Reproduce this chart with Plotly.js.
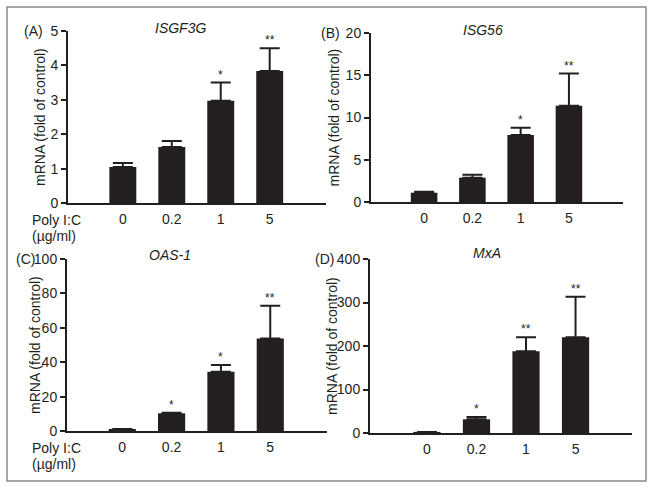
<!DOCTYPE html>
<html>
<head>
<meta charset="utf-8">
<script src="https://cdn.plot.ly/plotly-3.0.1.min.js"></script>
<style>html,body{margin:0;padding:0;background:#fff;}#chart{width:654px;height:489px;}</style>
</head>
<body>
<div id="chart"></div>
<script>
// ---- data ----
const doses = ['0', '0.2', '1', '5'];

const isgf3gMean = [1.05, 1.63, 2.97, 3.84];
const isgf3gErr  = [0.11, 0.17, 0.53, 0.66];
const isgf3gSig  = ['', '', '*', '**'];

const isg56Mean = [1.1, 2.88, 7.93, 11.4];
const isg56Err  = [0.1, 0.35, 0.87, 3.8];
const isg56Sig  = ['', '', '*', '**'];

const oas1Mean = [1.2, 10.3, 34.4, 53.8];
const oas1Err  = [0, 0.3, 3.9, 19.0];
const oas1Sig  = ['', '*', '*', '**'];

const mxaMean = [2.5, 31.5, 188, 220];
const mxaErr  = [0, 5.5, 32, 93];
const mxaSig  = ['', '*', '**', '**'];

const panelLabels = ['(A)', '(B)', '(C)', '(D)'];
const geneNames = ['ISGF3G', 'ISG56', 'OAS-1', 'MxA'];
const yMax = [5, 20, 100, 400];
const yDtick = [1, 5, 20, 100];
const yTitle = 'mRNA (fold of control)';
const doseLabel1 = 'Poly I:C';
const doseLabel2 = '(\u00b5g/ml)';

// ---- rendering ----
const W = 654, H = 489;
const ink = '#231f20';
const font = 'Liberation Sans, Arial, Helvetica, sans-serif';
const fs = 14;

const panels = [
  {mean: isgf3gMean, err: isgf3gErr, sig: isgf3gSig, x: [68, 326], y: [31, 203], xr: [-1.12, 4.15],
   title: [180, 28], label: 43, ytitle: 40},
  {mean: isg56Mean, err: isg56Err, sig: isg56Sig, x: [371, 623], y: [33, 202], xr: [-1.1, 4.12],
   title: [483, 30], label: 340, ytitle: 334},
  {mean: oas1Mean, err: oas1Err, sig: oas1Sig, x: [67, 327], y: [259, 431], xr: [-1.12, 4.15],
   title: [170, 255], label: 35, ytitle: 35},
  {mean: mxaMean, err: mxaErr, sig: mxaSig, x: [370, 632], y: [259, 433], xr: [-1.15, 4.14],
   title: [487, 253], label: 334, ytitle: 332}
];

const traces = [];
const annotations = [];
const layout = {
  width: W, height: H,
  margin: {l: 0, r: 0, t: 0, b: 0},
  paper_bgcolor: '#fff', plot_bgcolor: '#fff',
  showlegend: false,
  font: {family: font, size: fs, color: ink},
  shapes: [{
    type: 'rect', xref: 'paper', yref: 'paper',
    x0: 7 / W, x1: 646 / W, y0: 1 - 481 / H, y1: 1 - 7 / H,
    line: {color: '#8a8a8a', width: 1.5}
  }],
  annotations: annotations
};

panels.forEach((p, i) => {
  const n = i + 1;
  const xa = 'x' + (n === 1 ? '' : n);
  const ya = 'y' + (n === 1 ? '' : n);
  traces.push({
    type: 'bar', x: doses, y: p.mean, xaxis: xa, yaxis: ya,
    width: 0.55,
    marker: {color: ink, line: {width: 0}},
    error_y: {type: 'data', symmetric: false, array: p.err,
              arrayminus: p.mean.map(() => 0),
              color: ink, thickness: 2, width: 10, visible: true},
    hoverinfo: 'skip'
  });
  layout['xaxis' + (n === 1 ? '' : n)] = {
    domain: [p.x[0] / W, p.x[1] / W],
    anchor: ya, type: 'category', range: p.xr,
    showline: true, linewidth: 2, linecolor: ink,
    ticks: '', showgrid: false, zeroline: false,
    ticklabelstandoff: 2,
    tickfont: {size: fs, color: ink, family: font}
  };
  layout['yaxis' + (n === 1 ? '' : n)] = {
    domain: [1 - p.y[1] / H, 1 - p.y[0] / H],
    anchor: xa, range: [0, yMax[i]], dtick: yDtick[i], tick0: 0,
    showline: true, linewidth: 2, linecolor: ink,
    ticks: 'outside', ticklen: 5, tickwidth: 2, tickcolor: ink,
    showgrid: false, zeroline: false,
    tickfont: {size: fs, color: ink, family: font}
  };
  // y-axis title
  annotations.push({
    xref: 'paper', yref: 'paper',
    x: p.ytitle / W, y: 1 - (p.y[0] + p.y[1]) / 2 / H,
    text: yTitle, textangle: -90, showarrow: false,
    xanchor: 'center', yanchor: 'middle',
    font: {size: fs, color: ink, family: font}
  });
  // significance stars
  doses.forEach((d, j) => {
    if (p.sig[j]) {
      annotations.push({
        xref: xa, yref: ya, x: j, y: p.mean[j] + p.err[j],
        text: p.sig[j], showarrow: false, yanchor: 'bottom', yshift: -1,
        font: {size: 12, color: ink, family: font}
      });
    }
  });
  // gene title
  annotations.push({
    xref: 'paper', yref: 'paper',
    x: p.title[0] / W, y: 1 - p.title[1] / H,
    text: '<i>' + geneNames[i] + '</i>', showarrow: false,
    xanchor: 'center', yanchor: 'middle',
    font: {size: fs, color: ink, family: font}
  });
  // panel label
  annotations.push({
    xref: 'paper', yref: 'paper',
    x: p.label / W, y: 1 - p.y[0] / H,
    text: panelLabels[i], showarrow: false,
    xanchor: 'right', yanchor: 'middle', xshift: 2,
    font: {size: fs, color: ink, family: font}
  });
});

// dose axis label (panels A and C)
[203, 431].forEach(y0 => {
  annotations.push({
    xref: 'paper', yref: 'paper', x: 31 / W, y: 1 - (y0 + 17) / H,
    text: doseLabel1, showarrow: false, xanchor: 'left', yanchor: 'middle',
    borderpad: 0,
    font: {size: fs, color: ink, family: font}
  });
  annotations.push({
    xref: 'paper', yref: 'paper', x: 31 / W, y: 1 - (y0 + 33) / H,
    text: doseLabel2, showarrow: false, xanchor: 'left', yanchor: 'middle',
    borderpad: 0,
    font: {size: fs, color: ink, family: font}
  });
});

Plotly.newPlot('chart', traces, layout, {displayModeBar: false, staticPlot: true});
</script>
</body>
</html>
